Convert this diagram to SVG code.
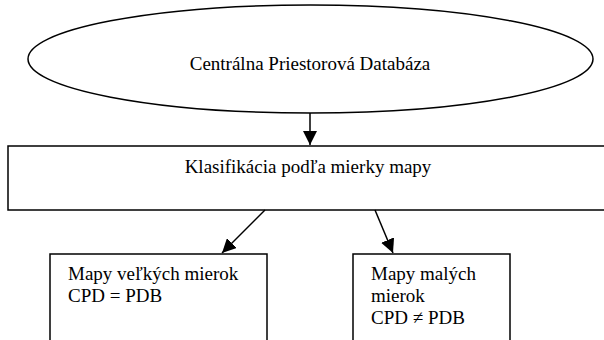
<svg xmlns="http://www.w3.org/2000/svg" width="604" height="340" viewBox="0 0 604 340">
<style>
.shape{fill:#fff;stroke:#000;stroke-width:1.5}
.t{font-family:"Liberation Serif","Times New Roman",serif;font-size:19px;fill:#000}
.c{stroke:#000;stroke-width:1.5;fill:none}
</style>
<defs>
<marker id="ah" viewBox="0 0 10 10" refX="10" refY="5" markerWidth="14" markerHeight="14" markerUnits="userSpaceOnUse" orient="auto">
<path d="M0,0 L10,5 L0,10 z" fill="#000"/>
</marker>
</defs>
<rect width="604" height="340" fill="#fff"/>
<g id="cpd">
<ellipse class="shape" cx="310.5" cy="59" rx="282.5" ry="54"/>
<text class="t" x="310" y="70" text-anchor="middle">Centrálna Priestorová Databáza</text>
</g>
<g id="klasifikacia">
<rect class="shape" x="8" y="146" width="610" height="64"/>
<text class="t" x="308" y="173" text-anchor="middle">Klasifikácia podľa mierky mapy</text>
</g>
<g id="velke">
<rect class="shape" x="50" y="254" width="217" height="100"/>
<text class="t" x="68" y="280">Mapy veľkých mierok</text>
<text class="t" x="68" y="302">CPD = PDB</text>
</g>
<g id="male">
<rect class="shape" x="353" y="254" width="157" height="100"/>
<text class="t" x="371" y="280">Mapy malých</text>
<text class="t" x="371" y="302">mierok</text>
<text class="t" x="371" y="324">CPD ≠ PDB</text>
</g>
<g id="connectors">
<line class="c" x1="310" y1="113" x2="310" y2="145" marker-end="url(#ah)"/>
<line class="c" x1="265" y1="210" x2="222" y2="253" marker-end="url(#ah)"/>
<line class="c" x1="375" y1="210" x2="393" y2="253" marker-end="url(#ah)"/>
</g>
</svg>
